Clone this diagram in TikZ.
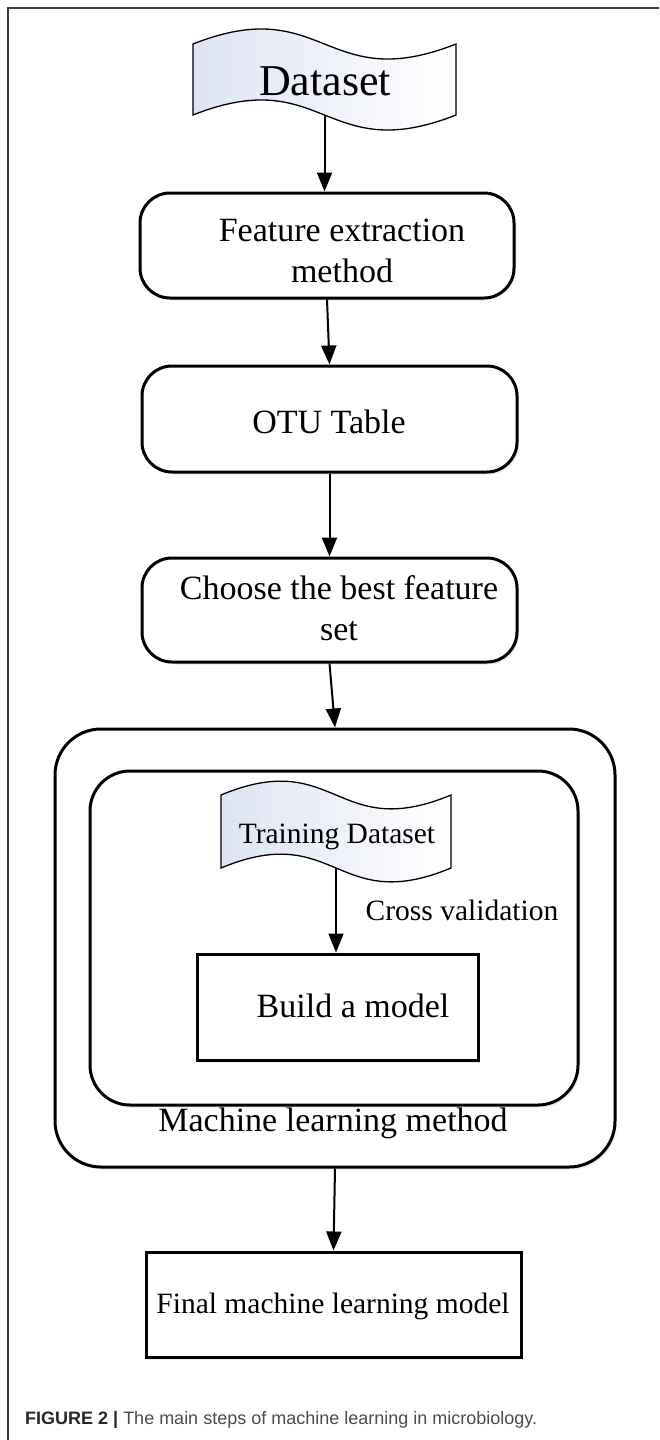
\documentclass[tikz,border=0pt]{standalone}
\usepackage{fontspec}
\setmainfont{Liberation Serif}
\newfontfamily\capfont{Liberation Sans}
\usetikzlibrary{arrows.meta, shadows}
\definecolor{tapefill}{RGB}{222,228,243}
\definecolor{glow}{RGB}{214,224,242}
\definecolor{framegray}{RGB}{60,60,60}
\definecolor{capdark}{RGB}{40,40,40}
\definecolor{capgray}{RGB}{75,75,75}

\begin{document}
\begin{tikzpicture}[x=1pt, y=-1pt,
  box/.style={draw, line width=3pt, fill=white, inner sep=0pt,
    drop shadow={shadow xshift=2pt, shadow yshift=-2.5pt, fill=glow, opacity=.6}},
  rbox/.style={box, rounded corners=30pt},
  tape/.style={draw, line width=1.3pt, left color=tapefill, right color=white},
  arr/.style={line width=2pt, -{Triangle[length=19pt, width=15pt]}},
  big/.style={font=\fontsize{34}{41}\selectfont, align=center, inner sep=0pt},
  mid/.style={font=\fontsize{29.5}{35}\selectfont, inner sep=0pt}]
\useasboundingbox (0,0) rectangle (659,1440);
% frame
\draw[framegray, line width=2pt] (8,1440) -- (8,8) -- (659,8);

% dataset
\draw[tape] (193,44) .. controls (324.5,-8) and (324.5,96) .. (456,44) -- (456,115)
  .. controls (324.5,167) and (324.5,63) .. (193,115) coordinate[pos=.5] (dsbot) -- cycle;
\node[font=\fontsize{44}{50}\selectfont, anchor=base, inner sep=0pt] (ds) at (325,95) {Dataset};

% steps
\node[rbox, minimum width=374pt, minimum height=105pt] (fe) at (327,245.5) {};
\node[big] (fet) at (342,251) {Feature extraction\\method};
\node[rbox, minimum width=375pt, minimum height=106pt] (otu) at (329.5,419) {};
\node[big, anchor=base] (otut) at (329,433) {OTU Table};
\node[rbox, minimum width=375pt, minimum height=104pt] (cho) at (329.5,610) {};
\node[big] (chot) at (339,608.5) {Choose the best feature\\set};

% machine learning method
\node[rbox, rounded corners=46pt, minimum width=560pt, minimum height=438pt] (ml) at (335,948) {};
\node[rbox, rounded corners=40pt, minimum width=488pt, minimum height=334pt] (mlin) at (334,938) {};
\draw[tape] (221,795) .. controls (336,747) and (336,843) .. (451,795) -- (451,868)
  .. controls (336,916) and (336,820) .. (221,868) coordinate[pos=.5] (tdbot) -- cycle;
\node[mid, anchor=base] (tdt) at (337,843) {Training Dataset};
\node[mid, anchor=base] (cv) at (462,920) {Cross validation};
\node[box, minimum width=281pt, minimum height=106pt] (bm) at (337.5,1007) {};
\node[big, anchor=base] (bmt) at (353,1017) {Build a model};
\node[big, anchor=base] (mlt) at (333,1131) {Machine learning method};

% final
\node[box, minimum width=375pt, minimum height=105pt] (fin) at (333.5,1304.5) {};
\node[mid, anchor=base] (fint) at (333,1313) {Final machine learning model};

% arrows
\draw[arr] (dsbot) -- (dsbot |- fe.north);
\draw[arr] (fe.south) -- (otu.north);
\draw[arr] (otu.south) -- (cho.north);
\draw[arr] (cho.south) -- (ml.north);
\draw[arr] (tdbot) -- (tdbot |- bm.north);
\draw[arr] (ml.south) -- (fin.north);

% caption
\node[anchor=base west, inner sep=0pt, font=\capfont\fontsize{18}{21}\selectfont] (cap) at (25,1424)
  {\textcolor{capdark}{\textbf{FIGURE 2 |}} \textcolor{capgray}{The main steps of machine learning in microbiology.}};
\end{tikzpicture}
\end{document}
